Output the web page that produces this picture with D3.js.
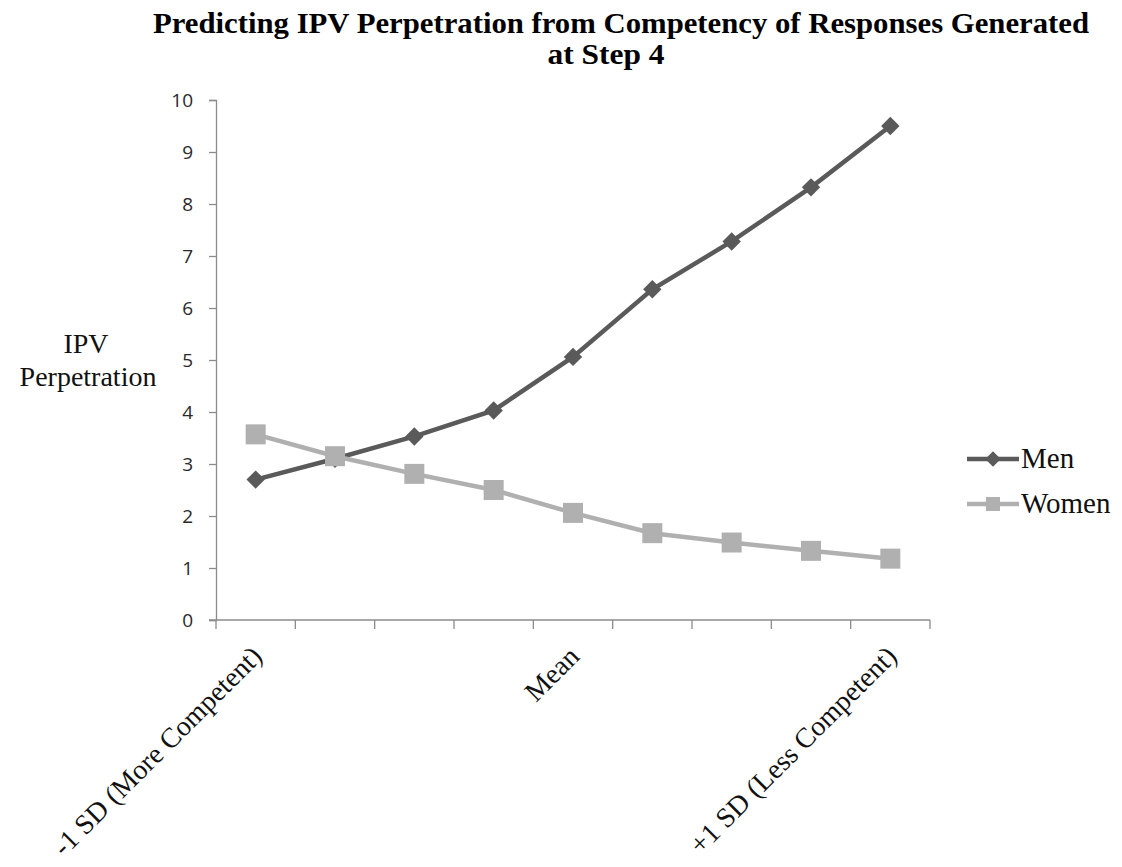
<!DOCTYPE html>
<html><head><meta charset="utf-8">
<script src="https://cdn.jsdelivr.net/npm/d3@7"></script>
<style>body{margin:0;background:#fff}svg{display:block}</style>
</head><body>
<svg id="c" width="1122" height="867"></svg>
<script>
const categories = ["-1 SD (More Competent)","","","","Mean","","","","+1 SD (Less Competent)"];
const menValues = [2.7, 3.1, 3.53, 4.03, 5.06, 6.36, 7.28, 8.32, 9.5];
const womenValues = [3.57, 3.15, 2.81, 2.5, 2.06, 1.67, 1.49, 1.33, 1.18];
const yTicks = [0,1,2,3,4,5,6,7,8,9,10];
const seriesNames = ["Men","Women"];

const svg = d3.select("#c");
const L = 216, R = 930, T = 100, B = 620;
const idx = d3.range(categories.length);
const x = d3.scaleBand().domain(idx).range([L, R]).padding(0);
const y = d3.scaleLinear().domain([0, 10]).range([B, T]);
const axisCol = "#8c8c8c";
const menCol = "#5a5a5a", womenCol = "#b0b0b0";
const serif = "Liberation Serif, 'Times New Roman', serif";

// Y axis
const ya = svg.append("g").attr("transform", `translate(${L},0)`)
  .call(d3.axisLeft(y).tickValues(yTicks).tickSize(7).tickPadding(16).tickFormat(d3.format("d")));
ya.select(".domain").attr("stroke", axisCol).attr("stroke-width", 1.3);
ya.selectAll(".tick line").attr("stroke", axisCol).attr("stroke-width", 1.3);
ya.selectAll(".tick text").attr("font-family", "Open Sans, Liberation Sans, sans-serif").attr("font-size", 19).attr("fill", "#2a2a2a");

// X axis
const xEdges = idx.map(i => x(i)).concat([R]);
const xg = svg.append("g");
xg.append("line").attr("x1", L - 7).attr("x2", R).attr("y1", B).attr("y2", B).attr("stroke", axisCol).attr("stroke-width", 1.3);
xg.selectAll("line.t").data(xEdges).enter().append("line").attr("class","t")
  .attr("x1", d => d).attr("x2", d => d).attr("y1", B).attr("y2", B + 9)
  .attr("stroke", axisCol).attr("stroke-width", 1.3);
xg.selectAll("text").data(idx.filter(i => categories[i])).enter().append("text")
  .attr("transform", i => `translate(${x(i) + x.bandwidth()/2 + 8},${B + 38}) rotate(-45)`)
  .attr("text-anchor", "end").attr("font-family", serif).attr("font-size", 28).attr("fill", "#111")
  .text(i => categories[i]);

// Lines and markers
const cx = i => x(i) + x.bandwidth()/2;
const line = d3.line().x((d, i) => cx(i)).y(d => y(d));
svg.append("path").datum(menValues).attr("d", line).attr("fill", "none").attr("stroke", menCol).attr("stroke-width", 4.5);
svg.selectAll("path.md").data(menValues).enter().append("path").attr("class","md")
  .attr("transform", (d, i) => `translate(${cx(i)},${y(d)}) rotate(45)`)
  .attr("d", "M-6.5,-6.5H6.5V6.5H-6.5Z").attr("fill", menCol);
svg.append("path").datum(womenValues).attr("d", line).attr("fill", "none").attr("stroke", womenCol).attr("stroke-width", 4.5);
svg.selectAll("rect.ws").data(womenValues).enter().append("rect").attr("class","ws")
  .attr("x", (d, i) => cx(i) - 10).attr("y", d => y(d) - 10).attr("width", 20).attr("height", 20).attr("fill", womenCol);

// Title
const title = svg.append("g").attr("font-family", serif).attr("font-weight", "bold").attr("font-size", 29).attr("fill", "#000");
title.append("text").attr("x", 621).attr("y", 33).attr("text-anchor", "middle")
  .attr("textLength", 936).attr("lengthAdjust", "spacingAndGlyphs")
  .text("Predicting IPV Perpetration from Competency of Responses Generated");
title.append("text").attr("x", 606).attr("y", 64).attr("text-anchor", "middle")
  .attr("textLength", 117).attr("lengthAdjust", "spacingAndGlyphs").text("at Step 4");

// Y title
const yt = svg.append("text").attr("text-anchor", "middle").attr("font-family", serif)
  .attr("font-size", 28).attr("fill", "#111");
yt.append("tspan").attr("x", 86).attr("y", 353).text("IPV");
yt.append("tspan").attr("x", 88).attr("y", 386).text("Perpetration");

// Legend
const leg = svg.append("g");
const lc = [menCol, womenCol];
seriesNames.forEach((n, k) => {
  const ly = 459 + k * 45;
  leg.append("line").attr("x1", 967).attr("x2", 1019).attr("y1", ly).attr("y2", ly).attr("stroke", lc[k]).attr("stroke-width", 4.5);
  if (k === 0) leg.append("path").attr("transform", `translate(993,${ly}) rotate(45)`).attr("d", "M-5.5,-5.5H5.5V5.5H-5.5Z").attr("fill", lc[k]);
  else leg.append("rect").attr("x", 986).attr("y", ly - 7).attr("width", 14).attr("height", 14).attr("fill", lc[k]);
  leg.append("text").attr("x", 1021).attr("y", ly + 9).attr("font-family", serif).attr("font-size", 29).attr("fill", "#111").text(n);
});
</script>
</body></html>
